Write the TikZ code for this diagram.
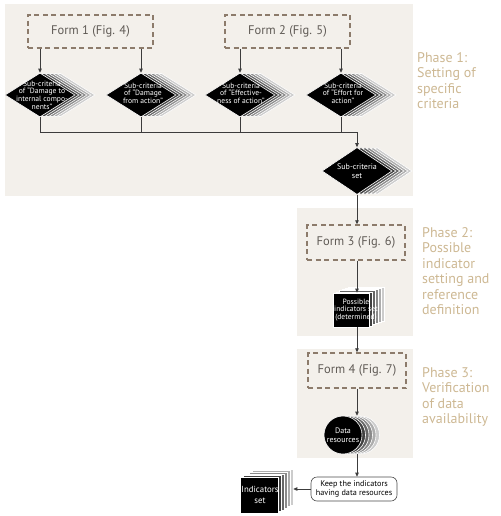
\documentclass[tikz,border=0pt]{standalone}
\usepackage{fontspec}
\setmainfont{PT Sans}
\usetikzlibrary{shapes.geometric,arrows.meta}

\definecolor{phasebg}{HTML}{F3F0EB}
\definecolor{phasetxt}{HTML}{CDB893}
\definecolor{formline}{HTML}{8C7B6B}
\definecolor{formtxt}{HTML}{5F5A55}
\definecolor{conn}{HTML}{3C3C3C}

\begin{document}
\begin{tikzpicture}[x=1pt, y=-1pt, >={Triangle[length=4pt,width=3.5pt]},
  phase/.style={anchor=north west, inner sep=0pt, align=left, text=phasetxt,
    font=\fontsize{14}{15.5}\selectfont},
  form/.style={draw=formline, line width=1.4pt, dash pattern=on 5pt off 3.5pt,
    minimum width=125pt, minimum height=33pt, text=formtxt,
    font=\fontsize{12.5}{14}\selectfont},
  crit/.style={diamond, fill=black, draw=white, line width=0.6pt,
    minimum width=70pt, minimum height=44pt, inner sep=0pt},
  sq/.style={rectangle, fill=black, draw=white, line width=0.6pt, inner sep=0pt},
  blob/.style={circle, fill=black, draw=white, line width=0.6pt, inner sep=0pt,
    minimum size=38pt},
  intext/.style={text=white, align=center, inner sep=0pt,
    font=\fontsize{7.6}{7.6}\selectfont},
  keepbox/.style={draw=black!70, line width=0.6pt, rounded corners=6pt, fill=white,
    minimum width=86pt, minimum height=24pt, align=center,
    font=\fontsize{8.2}{9.5}\selectfont},
  line/.style={draw=conn, line width=0.8pt},
  arr/.style={line, ->}]

 \useasboundingbox (0,0) rectangle (500,516);

 % phases
 \fill[phasebg] (5,4) rectangle (413,196);
 \fill[phasebg] (297,208) rectangle (413,336);
 \fill[phasebg] (297,349) rectangle (413,458);
 \node[phase] (ph1) at (417,52)  {Phase 1:\\Setting of\\specific\\criteria};
 \node[phase] (ph2) at (422,227) {Phase 2:\\Possible\\indicator\\setting and\\reference\\definition};
 \node[phase] (ph3) at (422,367) {Phase 3:\\Verification\\of data\\availability};

 \node[form] (f1) at (90.5,31.5) {Form 1 (Fig. 4)};
 \node[form] (f2) at (287.5,31.5) {Form 2 (Fig. 5)};
 \node[form, minimum width=98pt, minimum height=35pt] (f3) at (356,242.5) {Form 3 (Fig. 6)};
 \node[form, minimum width=98pt, minimum height=35pt] (f4) at (357,370.5) {Form 4 (Fig. 7)};

 % stacked diamonds
 \foreach \n/\x/\y/\h in {d1/40/95/44, d2/141/95/44, d3/240/95/44, d4/341/95/44, set/357/171/47} {
   \foreach \i/\c in {5/20,4/32,3/46,2/60,1/75}
     \node[crit, minimum height=\h pt, fill=black!\c] at (\x+\i*4,\y) {};
   \node[crit, minimum height=\h pt] (\n) at (\x,\y) {};
 }
 \node[intext] at ([xshift=2pt]d1) {Sub-criteria\\of “Damage to\\internal compo-\\nents”};
 \node[intext] at ([xshift=2pt,yshift=2pt]d2) {Sub-criteria\\of “Damage\\from action”};
 \node[intext] at ([xshift=1pt,yshift=2pt]d3) {Sub-criteria\\of “Effective-\\ness of action”};
 \node[intext] at ([xshift=2pt,yshift=2pt]d4) {Sub-criteria\\of “Effort for\\action”};
 \node[intext, font=\fontsize{8}{9}\selectfont] at (set) {Sub-criteria\\set};

 % possible indicators
 \foreach \i/\c in {5/20,4/32,3/46,2/60,1/75}
   \node[sq, fill=black!\c, minimum width=36pt, minimum height=34pt] at (351+\i*3,310-\i*1.2) {};
 \node[sq, minimum width=36pt, minimum height=34pt] (poss) at (351,310) {};
 \node[intext] at ([xshift=5pt]poss) {Possible\\indicators set\\(determined)};

 % data
 \foreach \i/\c in {5/20,4/32,3/46,2/60,1/75}
   \node[blob, fill=black!\c] at (343+\i*3.5,435) {};
 \node[blob] (data) at (343,435) {};
 \node[intext, font=\fontsize{8}{9.5}\selectfont] at (data) {Data\\resources};

 \node[keepbox] (keep) at (354,489) {Keep the indicators\\having data resources};

 % indicators set
 \foreach \i/\c in {5/20,4/32,3/46,2/60,1/75}
   \node[sq, fill=black!\c, minimum width=38pt, minimum height=36pt] (ind\i) at (259+\i*3,495-\i*1.6) {};
 \node[sq, minimum width=38pt, minimum height=36pt] (ind) at (259,495) {};
 \node[intext, font=\fontsize{8.8}{10.5}\selectfont] at ([xshift=1pt]ind) {Indicators\\set};

 % connectors
 \coordinate (join) at (357,132);
 \draw[arr] (f1.south -| d1) -- (d1.north);
 \draw[arr] (f1.south -| d2) -- (d2.north);
 \draw[arr] (f2.south -| d3) -- (d3.north);
 \draw[arr] (f2.south -| d4) -- (d4.north);
 \draw[line] (d1.south) |- (join);
 \draw[line] (d2.south) -- (d2.south |- join);
 \draw[line] (d3.south) -- (d3.south |- join);
 \draw[line] (d4.south) -- (d4.south |- join);
 \draw[arr] (join) -- (set.north);
 \draw[arr] (set.south) -- (set.south |- f3.north);
 \draw[arr] (set |- f3.south) -- (set |- poss.north);
 \draw[arr] (set |- poss.south) -- (set |- f4.north);
 \draw[arr] (set |- f4.south) -- (set |- data.north);
 \draw[arr] (set |- data.south) -- (set |- keep.north);
 \draw[arr] (keep.west) -- (keep.west -| ind5.east);
\end{tikzpicture}
\end{document}
